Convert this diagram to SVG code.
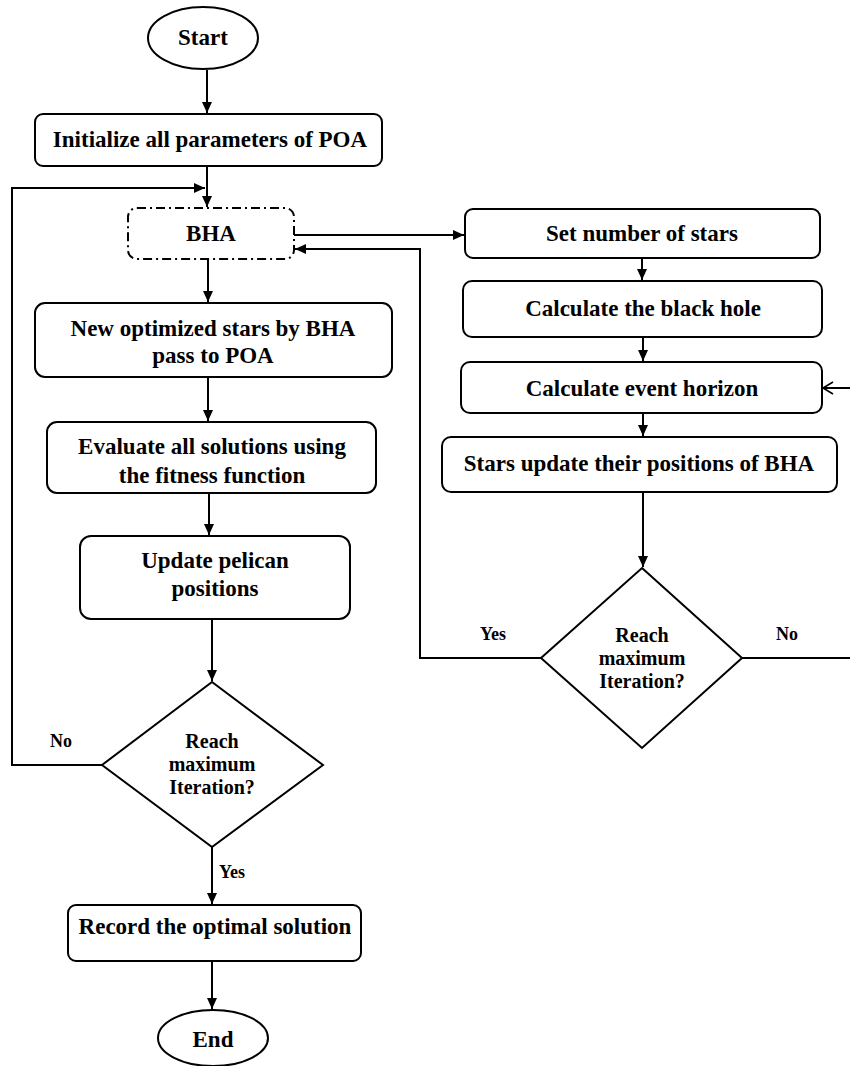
<svg xmlns="http://www.w3.org/2000/svg" width="850" height="1066" viewBox="0 0 850 1066">
<style>
.box{fill:#fff;stroke:#000;stroke-width:2}
.dash{fill:#fff;stroke:#000;stroke-width:2;stroke-dasharray:9,4,2,4}
.t{font-family:"Liberation Serif","Times New Roman",serif;font-weight:bold;font-size:23px;text-anchor:middle;fill:#000}
.d{font-family:"Liberation Serif","Times New Roman",serif;font-weight:bold;font-size:20px;text-anchor:middle;fill:#000}
.lbl{font-family:"Liberation Serif","Times New Roman",serif;font-weight:bold;font-size:18px;text-anchor:middle;fill:#000}
.c{fill:none;stroke:#000;stroke-width:2}
</style>
<defs>
<marker id="ah" markerUnits="userSpaceOnUse" markerWidth="12" markerHeight="12" viewBox="0 0 12 12" refX="11" refY="6" orient="auto">
<path d="M0,1 L11,6 L0,11 Z" fill="#000"/>
</marker>
<marker id="oa" markerUnits="userSpaceOnUse" markerWidth="14" markerHeight="14" viewBox="0 0 14 14" refX="12" refY="7" orient="auto">
<path d="M2,1 L12,7 L2,13" fill="none" stroke="#000" stroke-width="1.6"/>
</marker>
</defs>

<g id="connectors">
<path class="c" d="M207,70 V113" marker-end="url(#ah)"/>
<path class="c" d="M207,166 V207" marker-end="url(#ah)"/>
<path class="c" d="M102,765 H12 V188 H205" marker-end="url(#ah)"/>
<path class="c" d="M208,259 V302" marker-end="url(#ah)"/>
<path class="c" d="M208,377 V421" marker-end="url(#ah)"/>
<path class="c" d="M209,493 V535" marker-end="url(#ah)"/>
<path class="c" d="M212,619 V681" marker-end="url(#ah)"/>
<path class="c" d="M212,847 V904" marker-end="url(#ah)"/>
<path class="c" d="M212,961 V1009" marker-end="url(#ah)"/>
<path class="c" d="M294,235 H464" marker-end="url(#ah)"/>
<path class="c" d="M642,258 V280" marker-end="url(#ah)"/>
<path class="c" d="M643,337 V361" marker-end="url(#ah)"/>
<path class="c" d="M643,413 V436" marker-end="url(#ah)"/>
<path class="c" d="M643,492 V567" marker-end="url(#ah)"/>
<path class="c" d="M541,658 H420 V249 H295" marker-end="url(#ah)"/>
<path class="c" d="M742,658 H853 V388 H823" marker-end="url(#oa)"/>
</g>

<g id="start">
<ellipse class="box" cx="203" cy="38" rx="55" ry="31"/>
<text class="t" x="203" y="45">Start</text>
</g>
<g id="init">
<rect class="box" x="35" y="114" width="347" height="52" rx="8"/>
<text class="t" x="210" y="147">Initialize all parameters of POA</text>
</g>
<g id="bha">
<rect class="dash" x="128" y="208" width="166" height="51" rx="9"/>
<text class="t" x="211" y="241">BHA</text>
</g>
<g id="newopt">
<rect class="box" x="35" y="303" width="357" height="74" rx="10"/>
<text class="t" x="213" y="336">New optimized stars by BHA</text>
<text class="t" x="213" y="363">pass to POA</text>
</g>
<g id="evaluate">
<rect class="box" x="47" y="422" width="329" height="71" rx="10"/>
<text class="t" x="212" y="454">Evaluate all solutions using</text>
<text class="t" x="212" y="483">the fitness function</text>
</g>
<g id="update">
<rect class="box" x="80" y="536" width="270" height="83" rx="11"/>
<text class="t" x="215" y="568">Update pelican</text>
<text class="t" x="215" y="596">positions</text>
</g>
<g id="decision1">
<polygon class="box" points="212,682 323,765 212,847 102,765"/>
<text class="d" x="212" y="748">Reach</text>
<text class="d" x="212" y="771">maximum</text>
<text class="d" x="212" y="794">Iteration?</text>
</g>
<g id="record">
<rect class="box" x="68" y="905" width="293" height="56" rx="8"/>
<text class="t" x="215" y="934">Record the optimal solution</text>
</g>
<g id="end">
<ellipse class="box" cx="213" cy="1038" rx="55" ry="28"/>
<text class="t" x="213" y="1047">End</text>
</g>
<g id="setstars">
<rect class="box" x="465" y="209" width="355" height="49" rx="8"/>
<text class="t" x="642" y="241">Set number of stars</text>
</g>
<g id="blackhole">
<rect class="box" x="463" y="281" width="359" height="56" rx="9"/>
<text class="t" x="643" y="316">Calculate the black hole</text>
</g>
<g id="eventhorizon">
<rect class="box" x="461" y="362" width="361" height="51" rx="9"/>
<text class="t" x="642" y="396">Calculate event horizon</text>
</g>
<g id="starsupdate">
<rect class="box" x="442" y="437" width="395" height="55" rx="9"/>
<text class="t" x="639" y="471">Stars update their positions of BHA</text>
</g>
<g id="decision2">
<polygon class="box" points="642,568 742,658 642,748 541,658"/>
<text class="d" x="642" y="642">Reach</text>
<text class="d" x="642" y="665">maximum</text>
<text class="d" x="642" y="688">Iteration?</text>
</g>
<g id="labels">
<text class="lbl" x="493" y="640">Yes</text>
<text class="lbl" x="787" y="640">No</text>
<text class="lbl" x="61" y="747">No</text>
<text class="lbl" x="219" y="878" style="text-anchor:start">Yes</text>
</g>
</svg>
